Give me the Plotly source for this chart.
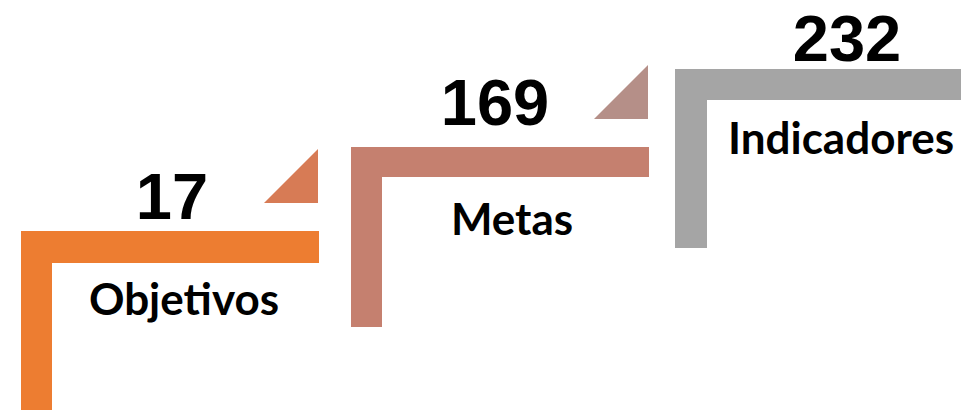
import plotly.graph_objects as go

# Data
labels = ["Objetivos", "Metas", "Indicadores"]
values = [17, 169, 232]

# Styles
bar_colors = ["#ED7D31", "#C5806F", "#A5A5A5"]
tri_colors = ["#D77B55", "#B58F88", None]

W, H = 961, 410
# layout geometry (pixel space) per step
step_left = [21, 351, 675]
step_top = [231, 147, 69]
step_right = [319, 649, 975]
step_bottom = [420, 327, 248]
thick_h = [32, 30, 31]
thick_v = [31, 31, 32]
num_xy = [(172, 203), (495, 109), (847, 45)]
lab_xy = [(184, 304), (512, 224), (841, 143)]

fig = go.Figure()
shapes = []
for i in range(len(labels)):
    L, T, R, B = step_left[i], step_top[i], step_right[i], step_bottom[i]
    th, tv = thick_h[i], thick_v[i]
    path = (f"M {L},{B} L {L},{T} L {R},{T} L {R},{T+th} "
            f"L {L+tv},{T+th} L {L+tv},{B} Z")
    shapes.append(dict(type="path", path=path, xref="x", yref="y",
                       fillcolor=bar_colors[i], line=dict(width=0), layer="below"))
    if tri_colors[i]:
        tx = R - 1
        base = T - 28
        shapes.append(dict(type="path",
                           path=f"M {tx-54},{base} L {tx},{base} L {tx},{base-54} Z",
                           xref="x", yref="y", fillcolor=tri_colors[i],
                           line=dict(width=0), layer="below"))

fig.add_trace(go.Scatter(
    x=[p[0] for p in num_xy], y=[p[1] for p in num_xy],
    text=[str(v) for v in values], mode="text",
    textposition="middle center", cliponaxis=False,
    textfont=dict(family="Liberation Sans", size=65, color="#000000", weight="bold"),
    hoverinfo="skip", showlegend=False))
fig.add_trace(go.Scatter(
    x=[p[0] for p in lab_xy], y=[p[1] for p in lab_xy],
    text=labels, mode="text",
    textposition="middle center", cliponaxis=False,
    textfont=dict(family="Lato", size=44, color="#000000", weight="bold"),
    hoverinfo="skip", showlegend=False))

fig.update_layout(
    width=W, height=H,
    margin=dict(l=0, r=0, t=0, b=0),
    paper_bgcolor="white", plot_bgcolor="white",
    shapes=shapes,
    xaxis=dict(range=[0, W], visible=False, fixedrange=True),
    yaxis=dict(range=[H, 0], visible=False, fixedrange=True),
    showlegend=False,
)
fig.write_html("out.html", config={"displayModeBar": False},
               post_script="document.body.style.margin='0';document.body.style.overflow='hidden';")
